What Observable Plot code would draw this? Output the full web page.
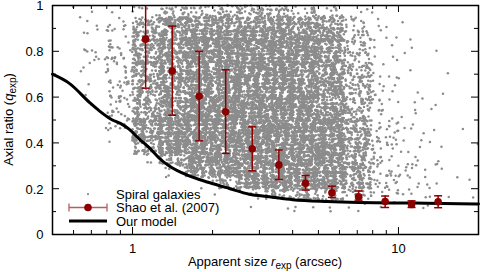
<!DOCTYPE html>
<html><head><meta charset="utf-8">
<script src="https://cdn.jsdelivr.net/npm/d3@7"></script>
<script src="https://cdn.jsdelivr.net/npm/@observablehq/plot@0.6"></script>
<style>body{margin:0;background:#fff;color:#000;} svg{display:block;}</style>
</head><body><div id="chart"></div>
<script>
// Spiral galaxies: point density read per cell of the picture.
// Columns: 16 bins of 0.1 dex in r_exp starting at 0.5"; rows: bins of 0.05 in q_exp, top row (0.95-1.0) first.
const galaxyDensityRows = [
  "1113556665421000",
  "0236888888742100",
  "0237899998852100",
  "0247899999852110",
  "0347899999852100",
  "0247899999862110",
  "0147899999863100",
  "0147899999863110",
  "0147899999863210",
  "0047899999863210",
  "0048999999974211",
  "0018999999974210",
  "0006999999974211",
  "0002799999974320",
  "0000389999974321",
  "0000026999974221",
  "0000001467653221",
  "0000000112222110",
  "0000000000000000",
  "0000000000000000"
];
const densityCounts = [0, 1, 3, 6, 12, 22, 38, 60, 95, 140];

// Shao et al. (2007)
const shaoX  = [1.12, 1.41, 1.78, 2.24, 2.82, 3.55, 4.47, 5.62, 7.08, 8.91, 11.2, 14.1];
const shaoQ  = [0.853, 0.714, 0.604, 0.536, 0.374, 0.304, 0.224, 0.182, 0.165, 0.144, 0.131, 0.143];
const shaoLo = [0.639, 0.521, 0.409, 0.354, 0.278, 0.240, 0.194, 0.162, 0.150, 0.118, 0.118, 0.117];
const shaoHi = [1.07, 0.91, 0.80, 0.719, 0.470, 0.369, 0.258, 0.211, 0.190, 0.168, 0.147, 0.169];

// Our model
const modelX = [0.5, 0.58, 0.69, 0.75, 0.84, 0.90, 0.97, 1.06, 1.16, 1.26, 1.37, 1.63, 1.94, 2.31, 2.75, 3.27, 4.0, 5.4, 7.1, 9.5, 12.7, 17, 20];
const modelQ = [0.70, 0.659, 0.576, 0.54, 0.50, 0.485, 0.46, 0.417, 0.377, 0.333, 0.30, 0.256, 0.227, 0.201, 0.176, 0.165, 0.152, 0.144, 0.14, 0.138, 0.137, 0.134, 0.133];

// Ticks
const xTicksMajor = [1, 10];
const xTicksMinor = [0.6, 0.7, 0.8, 0.9, 2, 3, 4, 5, 6, 7, 8, 9];
const yTicksMajor = [0, 0.2, 0.4, 0.6, 0.8, 1];
const yTicksMinor = [0.1, 0.3, 0.5, 0.7, 0.9];

const legendLabels = ["Spiral galaxies", "Shao et al. (2007)", "Our model"];

// ---- build tables ----
// deterministic placement of each cell's points inside its cell
function cellOffset(a) {
  a = (a ^ 61) ^ (a >>> 16);
  a = a + (a << 3);
  a = a ^ (a >>> 4);
  a = Math.imul(a, 0x27d4eb2d);
  a = a ^ (a >>> 15);
  return (a >>> 0) / 4294967296;
}
const galaxies = [];
const nRows = galaxyDensityRows.length;
const x0 = Math.log10(0.5);
galaxyDensityRows.forEach((row, r) => {
  const j = nRows - 1 - r;
  [...row].forEach((c, i) => {
    const n = densityCounts[+c];
    for (let k = 0; k < n; k++) {
      const seed = ((i * 20 + j) * 1000 + k) * 2 + 12345;
      const u = cellOffset(seed);
      const v = cellOffset(seed + 1);
      galaxies.push({x: Math.pow(10, x0 + 0.1 * (i + u)), q: 0.05 * (j + v)});
    }
  });
});
const shao = shaoX.map((x, i) => ({x, q: shaoQ[i], lo: shaoLo[i], hi: shaoHi[i]}));
const model = modelX.map((x, i) => ({x, q: modelQ[i]}));

const W = 480, H = 272, mL = 52, mR = 2, mT = 5, mB = 38;
const innerW = W - mL - mR, innerH = H - mT - mB;
const red = "#8b0000";
const cap = {draw(ctx) { ctx.moveTo(-4, 0); ctx.lineTo(4, 0); }};
const fmt = d => String(d);

const chart = Plot.plot({
  width: W, height: H,
  marginLeft: mL, marginRight: mR, marginTop: mT, marginBottom: mB,
  x: {type: "log", domain: [0.5, 20], label: null},
  y: {domain: [0, 1], label: null},
  style: {fontFamily: "'Liberation Sans', Arial, sans-serif", fontSize: "13px", background: "white", color: "black"},
  marks: [
    Plot.dot(galaxies, {x: "x", y: "q", r: 1.25, fill: "#8c8c8c", stroke: null}),
    Plot.line(model, {x: "x", y: "q", stroke: "black", strokeWidth: 3, curve: "monotone-x"}),
    Plot.ruleX(shao, {x: "x", y1: "lo", y2: "hi", stroke: red, strokeWidth: 1.5, clip: true}),
    Plot.dot(shao, {x: "x", y: "lo", symbol: cap, fill: "none", stroke: red, strokeWidth: 1.5, clip: true}),
    Plot.dot(shao, {x: "x", y: "hi", symbol: cap, fill: "none", stroke: red, strokeWidth: 1.5, clip: true}),
    Plot.dot(shao, {x: "x", y: "q", r: 3.8, fill: red, stroke: null}),
    // inward ticks on all four sides
    Plot.tickX(xTicksMajor, {x: d => d, insetTop: innerH - 7, stroke: "black"}),
    Plot.tickX(xTicksMinor, {x: d => d, insetTop: innerH - 4, stroke: "black"}),
    Plot.tickX(xTicksMajor, {x: d => d, insetBottom: innerH - 7, stroke: "black"}),
    Plot.tickX(xTicksMinor, {x: d => d, insetBottom: innerH - 4, stroke: "black"}),
    Plot.tickY(yTicksMajor, {y: d => d, insetRight: innerW - 7, stroke: "black"}),
    Plot.tickY(yTicksMinor, {y: d => d, insetRight: innerW - 4, stroke: "black"}),
    Plot.tickY(yTicksMajor, {y: d => d, insetLeft: innerW - 7, stroke: "black"}),
    Plot.tickY(yTicksMinor, {y: d => d, insetLeft: innerW - 4, stroke: "black"}),
    Plot.frame({stroke: "black", strokeWidth: 1.5}),
    Plot.axisX(xTicksMajor, {tickSize: 0, tickPadding: 9, tickFormat: fmt, label: null}),
    Plot.axisY(yTicksMajor, {tickSize: 0, tickPadding: 9, tickFormat: fmt, label: null, dy: 0.8})
  ]
});
document.getElementById("chart").appendChild(chart);

// ---- axis titles with italic / subscript, and legend ----
const svg = d3.select(chart);
const font = "'Liberation Sans', Arial, sans-serif";

const xl = svg.append("text").attr("x", mL + innerW / 2).attr("y", 266)
  .attr("text-anchor", "middle").attr("font-family", font).attr("font-size", 13).attr("fill", "black");
xl.append("tspan").text("Apparent size ");
xl.append("tspan").attr("font-style", "italic").text("r");
xl.append("tspan").attr("font-size", 10).attr("dy", 3).text("exp");
xl.append("tspan").attr("dy", -3).text(" (arcsec)");

const yl = svg.append("text").attr("transform", `translate(12.5,${mT + innerH / 2}) rotate(-90)`)
  .attr("text-anchor", "middle").attr("font-family", font).attr("font-size", 13).attr("fill", "black");
yl.append("tspan").text("Axial ratio (");
yl.append("tspan").attr("font-style", "italic").text("q");
yl.append("tspan").attr("font-size", 10).attr("dy", 3).text("exp");
yl.append("tspan").attr("dy", -3).text(")");

const legendY = [194.2, 207.5, 221];
const lg = svg.append("g").attr("font-family", font).attr("font-size", 13).attr("text-anchor", "start");
legendLabels.forEach((t, i) => {
  lg.append("text").attr("x", 116).attr("y", legendY[i]).attr("dy", "0.36em")
    .attr("text-anchor", "start").attr("fill", "black").text(t);
});
lg.append("circle").attr("cx", 88).attr("cy", legendY[0]).attr("r", 1.1).attr("fill", "#8c8c8c");
lg.append("line").attr("x1", 69).attr("x2", 107).attr("y1", legendY[1]).attr("y2", legendY[1]).attr("stroke", "#b06060").attr("stroke-width", 1.3);
[69, 107].forEach(x => lg.append("line").attr("x1", x).attr("x2", x).attr("y1", legendY[1] - 4).attr("y2", legendY[1] + 4).attr("stroke", "#b06060").attr("stroke-width", 1.3));
lg.append("circle").attr("cx", 88).attr("cy", legendY[1]).attr("r", 3.8).attr("fill", red);
lg.append("line").attr("x1", 69).attr("x2", 107).attr("y1", legendY[2]).attr("y2", legendY[2]).attr("stroke", "black").attr("stroke-width", 3);
</script>
</body></html>
